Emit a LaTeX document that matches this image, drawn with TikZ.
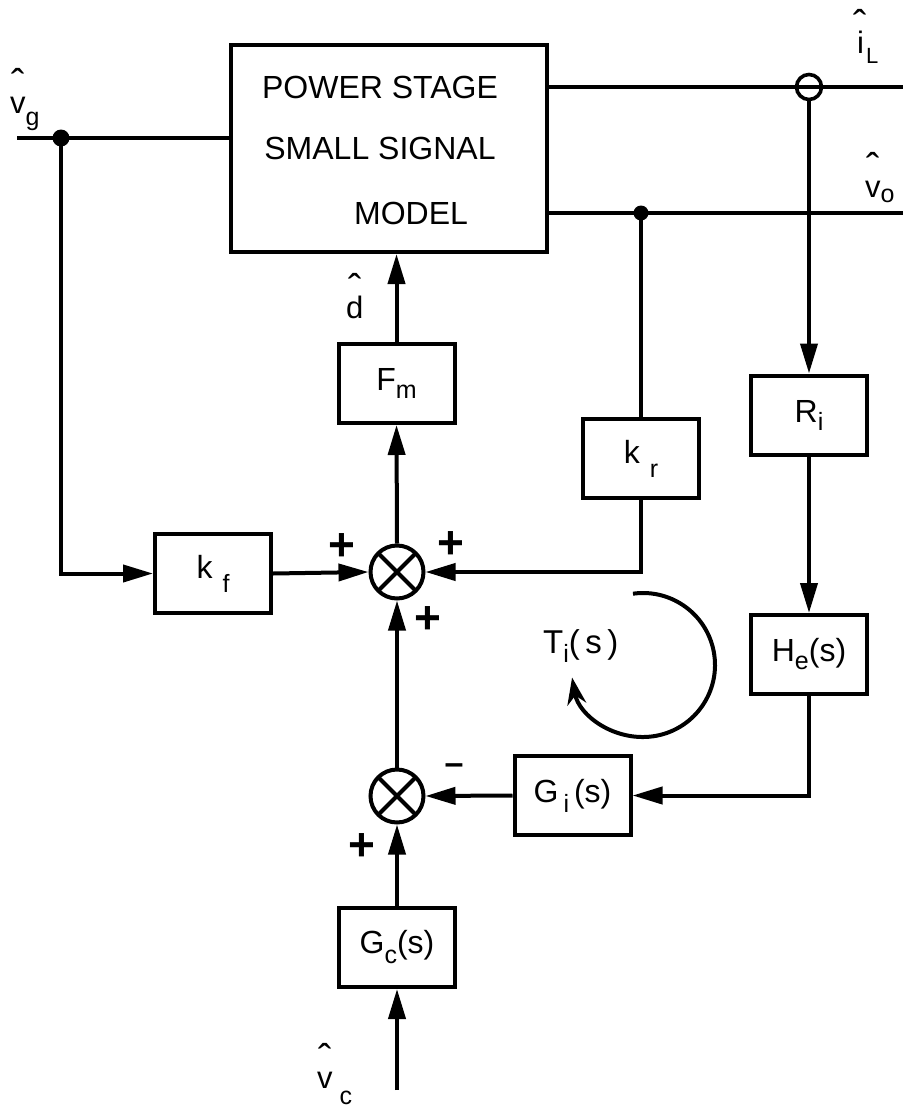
\documentclass[tikz,border=0pt]{standalone}
\usepackage{fontspec}
\setmainfont{Liberation Sans}
\usetikzlibrary{arrows.meta,calc}
\newcommand\lowidx[2][10pt]{\raisebox{-#1}{\fontsize{25}{25}\selectfont #2}}
% hat placed over the letter: raise, letter, drop of index, index
\newcommand\hatvar[4]{\setbox0\hbox{#2}\rlap{\hbox to\wd0{\hss\raisebox{#1}{\fontsize{40}{40}\selectfont\symbol{"02C6}}\hss}}\box0\lowidx[#3]{#4}}
\tikzset{sig/.style={-{Triangle[length=30pt,width=17pt]},line width=4pt},
wire/.style={line width=4pt},
blk/.style={draw,line width=4pt,minimum width=116pt,minimum height=79pt,inner sep=0pt,font=\fontsize{32}{34}\selectfont},
sumj/.style={circle,draw,line width=4pt,minimum size=53pt,inner sep=0pt,
  path picture={\draw[line width=4pt] (path picture bounding box.north west)--(path picture bounding box.south east)
  (path picture bounding box.north east)--(path picture bounding box.south west);}},
dot/.style={circle,fill,inner sep=0pt,minimum size=17pt},
sgn/.style={font=\fontsize{46}{46}\selectfont\bfseries,inner sep=0pt},
lab/.style={font=\fontsize{31}{34}\selectfont,inner sep=0pt},
turn/.style={-{Stealth[length=27pt,width=19pt]},line width=4pt}}
\begin{document}
\begin{tikzpicture}[x=1pt,y=-1pt]
\useasboundingbox (0,0) rectangle (903,1108);
% power stage
\node[draw,line width=4pt,minimum width=316pt,minimum height=207pt] (ps) at (389,148.5) {};
\node[lab,font=\fontsize{32}{34}\selectfont] (ps1) at (380,87) {POWER STAGE};
\node[lab,font=\fontsize{32}{34}\selectfont] (ps2) at (380,148) {SMALL SIGNAL};
\node[lab,font=\fontsize{32}{34}\selectfont] (ps3) at (411,213) {MODEL};
% blocks
\node[blk] (fm) at (396.5,383.5) {F\lowidx[8pt]{m}};
\node[blk] (kf) at (213,573.5) {k\hspace{10pt}\lowidx[14pt]{f}};
\node[blk] (kr) at (641,458.5) {k\hspace{10pt}\lowidx[14pt]{r}};
\node[blk] (ri) at (809,415) {R\lowidx[8pt]{i}};
\node[blk] (he) at (809,654.5) {H\lowidx[8pt]{e}(s)};
\node[blk] (gi) at (572.5,795.5) {G\hspace{5pt}\lowidx[10pt]{i}\hspace{5pt}(s)};
\node[blk] (gc) at (397,947.5) {G\lowidx[10pt]{c}(s)};
\node[sumj] (s1) at (397,572) {};
\node[sumj] (s2) at (397,796) {};
% junctions and ends
\node[dot] (vgdot) at (61,138) {};
\node[dot,minimum size=15pt] (vodot) at (641,213) {};
\node[circle,draw,line width=3.6pt,minimum size=25pt,inner sep=0pt] (iL) at (809,87) {};
\coordinate (vgin) at (17,138);
\coordinate (iLout) at (903,87);
\coordinate (voout) at (903,213);
\coordinate (vcin) at (397,1090);
% signals
\draw[wire] (vgin) -- (vgin -| ps.west);
\draw[sig] (vgdot.center) |- (kf.west);
\draw[sig] (kf.east) -- (s1.west);
\draw[sig] (s1.north) -- (fm.south);
\draw[sig] (fm.north) -- (fm.north |- ps.south);
\draw[wire] (iLout -| ps.east) -- (iLout);
\draw[wire] (voout -| ps.east) -- (voout);
\draw[wire] (vodot.center) -- (kr.north);
\draw[sig] (kr.south) |- (s1.east);
\draw[sig] (iL.south) -- (ri.north);
\draw[sig] (ri.south) -- (he.north);
\draw[sig] (he.south) |- (gi.east);
\draw[sig] (gi.west) -- (s2.east);
\draw[sig] (s2.north) -- (s1.south);
\draw[sig] (gc.north) -- (s2.south);
\draw[sig] (vcin) -- (gc.south);
% signs
\node[sgn] (p1) at (342,547) {+};
\node[sgn] (p2) at (451,545) {+};
\node[sgn] (p3) at (428,620) {+};
\node[sgn,font=\fontsize{34}{34}\selectfont\bfseries] (m1) at (454,769) {--};
\node[sgn] (p4) at (362,847) {+};
% variables
\node[lab,anchor=base west] (vg) at (10,113) {\hatvar{16pt}{v}{12pt}{g}};
\node[lab,anchor=base west] (iLl) at (857,53) {\hatvar{14pt}{i}{10pt}{\hspace{2pt}\fontsize{22}{22}\selectfont L}};
\node[lab,anchor=base west] (vo) at (865,197) {\hatvar{16pt}{v}{5pt}{o}};
\node[lab,anchor=base west] (dl) at (346,318) {\hatvar{16pt}{d}{0pt}{}};
\node[lab,anchor=base west] (vc) at (317,1088) {\hatvar{16pt}{v}{16pt}{\hspace{7pt}c}};
% loop gain
\node[lab,anchor=base west,font=\fontsize{33}{34}\selectfont] (ti) at (543,653) {T\lowidx[9pt]{i}(\,s\,)};
\coordinate (loopc) at (643,665);
\draw[turn] ([shift={(-98:72)}]loopc) arc[start angle=-98,end angle=170,radius=72];
\end{tikzpicture}
\end{document}
